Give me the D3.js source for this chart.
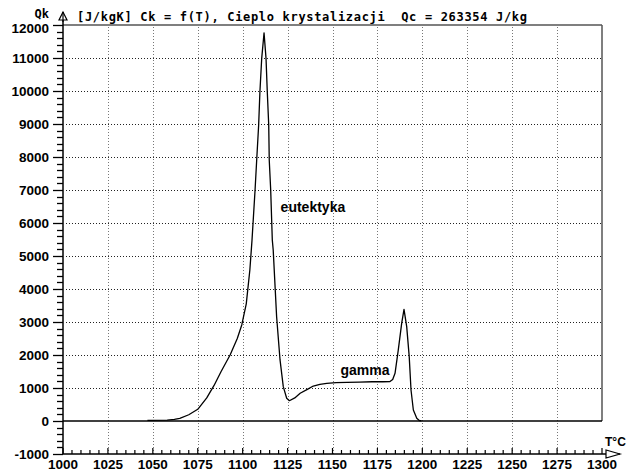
<!DOCTYPE html>
<html>
<head>
<meta charset="utf-8">
<script src="https://cdn.jsdelivr.net/npm/d3@7/dist/d3.min.js"></script>
<style>
html,body{margin:0;padding:0;background:#fff;}
svg{display:block;}
</style>
</head>
<body>
<svg id="chart" width="626" height="471"></svg>
<script>
// ---- data ----
const temperature = [1047, 1058, 1062, 1065, 1070, 1075, 1080, 1084, 1088, 1093, 1097, 1099.5, 1102, 1104, 1105.2, 1106.9, 1107.8, 1108.9, 1109.6, 1110.6, 1111.9, 1113, 1113.7, 1114.5, 1114.8, 1115.6, 1116.5, 1117, 1118.9, 1120.8, 1122.6, 1124.5, 1126, 1129, 1132, 1136, 1139.3, 1143, 1146.8, 1152, 1158, 1165, 1172, 1178, 1182, 1183.5, 1184.8, 1186.6, 1188.5, 1189.8, 1191.3, 1192.7, 1193.7, 1195, 1196.9, 1198.3, 1199.5];
const heatQk = [20, 25, 50, 82, 190, 354, 700, 1070, 1500, 2000, 2500, 2910, 3550, 4575, 5480, 7000, 7900, 8970, 9980, 10990, 11760, 10990, 9980, 8970, 7900, 7000, 5480, 5180, 3160, 1850, 1040, 690, 615, 700, 840, 960, 1060, 1110, 1140, 1160, 1172, 1180, 1190, 1190, 1195, 1260, 1445, 2150, 2960, 3385, 2860, 1950, 940, 333, 82, 15, 5];
const xTicks = [1000, 1025, 1050, 1075, 1100, 1125, 1150, 1175, 1200, 1225, 1250, 1275, 1300];
const yTicks = [-1000, 0, 1000, 2000, 3000, 4000, 5000, 6000, 7000, 8000, 9000, 10000, 11000, 12000];
const titleText = "[J/kgK] Ck = f(T), Cieplo krystalizacji  Qc = 263354 J/kg";
const yAxisName = "Qk";
const xAxisName = "T\u00B0C";
const annotations = [{label: "eutektyka", t: 1139.1, q: 6330}, {label: "gamma", t: 1168.1, q: 1394}];

// ---- layout ----
const svg = d3.select("#chart");
const L = 63, R = 602, T = 25, B = 454;
const x = d3.scaleLinear().domain([1000, 1300]).range([L, R]);
const y = d3.scaleLinear().domain([-1000, 12000]).range([B, T]);

const lab = "'Liberation Sans', Arial, sans-serif";
const mono = "'DejaVu Sans Mono', 'Liberation Mono', monospace";

// grid
const g = svg.append("g");
g.selectAll("line.vg").data(xTicks.filter(d => d > 1000 && d < 1300)).enter().append("line")
  .attr("x1", d => Math.round(x(d)) + 0.5).attr("x2", d => Math.round(x(d)) + 0.5).attr("y1", T + 2).attr("y2", B)
  .attr("stroke", "#777").attr("stroke-width", 1).attr("stroke-dasharray", "1,2");
g.selectAll("line.hg").data(yTicks.filter(d => d !== 0 && d !== 12000 && d !== -1000)).enter().append("line")
  .attr("x1", L + 3).attr("x2", R).attr("y1", d => Math.round(y(d)) + 0.5).attr("y2", d => Math.round(y(d)) + 0.5)
  .attr("stroke", "#222").attr("stroke-width", 1).attr("stroke-dasharray", "1,2");

// frame top/right
g.append("line").attr("x1", L).attr("x2", R).attr("y1", T).attr("y2", T).attr("stroke", "#555").attr("stroke-width", 1.5);
g.append("line").attr("x1", R).attr("x2", R).attr("y1", T).attr("y2", y(0)).attr("stroke", "#555").attr("stroke-width", 1.5);
// zero line
g.append("line").attr("x1", L).attr("x2", R).attr("y1", y(0)).attr("y2", y(0)).attr("stroke", "#000").attr("stroke-width", 1.5);

// y axis
const yMinor = d3.range(-1000, 12001, 200);
g.selectAll("line.ym").data(yMinor).enter().append("line")
  .attr("x1", d => (d % 1000 === 0) ? L - 10 : L - 6).attr("x2", L)
  .attr("y1", d => Math.round(y(d)) + 0.5).attr("y2", d => Math.round(y(d)) + 0.5)
  .attr("stroke", "#000").attr("stroke-width", 1.3);
g.append("line").attr("x1", L).attr("x2", L).attr("y1", 12).attr("y2", B).attr("stroke", "#000").attr("stroke-width", 1.5);
// y arrow
g.append("path").attr("d", `M${L},12 L${L - 4},20 L${L + 4},20 Z`).attr("fill", "#fff").attr("stroke", "#000").attr("stroke-width", 1.2);
g.append("line").attr("x1", L).attr("x2", L).attr("y1", 12).attr("y2", 22).attr("stroke", "#000").attr("stroke-width", 1.2);
g.selectAll("text.yl").data(yTicks).enter().append("text")
  .attr("x", 49).attr("y", d => y(d) + (d === 12000 ? 8 : 5))
  .attr("text-anchor", "end").attr("font-family", lab).attr("font-weight", "bold").attr("font-size", "13.5px")
  .text(d => d);

// x axis
const xMinor = d3.range(1000, 1301, 5);
g.selectAll("line.xm").data(xMinor).enter().append("line")
  .attr("x1", d => x(d)).attr("x2", d => x(d))
  .attr("y1", d => (d % 25 === 0) ? B - 6 : B - 4).attr("y2", B)
  .attr("stroke", "#000").attr("stroke-width", 1.2);
g.append("line").attr("x1", L).attr("x2", 620).attr("y1", B).attr("y2", B).attr("stroke", "#000").attr("stroke-width", 1.5);
g.append("path").attr("d", `M620,${B} L606,${B - 4} L606,${B + 4} Z`).attr("fill", "#fff").attr("stroke", "#000").attr("stroke-width", 1.2);
g.selectAll("text.xl").data(xTicks).enter().append("text")
  .attr("x", d => x(d)).attr("y", 469)
  .attr("text-anchor", "middle").attr("font-family", lab).attr("font-weight", "bold").attr("font-size", "13.5px")
  .text(d => d);

// axis names and title
svg.append("text").attr("x", 49).attr("y", 17.5).attr("text-anchor", "end")
  .attr("font-family", mono).attr("font-weight", "bold").attr("font-size", "12px").text(yAxisName);
svg.append("text").attr("x", 77).attr("y", 21)
  .attr("font-family", mono).attr("font-weight", "bold").attr("font-size", "12px")
  .attr("textLength", 450).attr("lengthAdjust", "spacing")
  .style("white-space", "pre").text(titleText);
svg.append("text").attr("x", 605).attr("y", 446)
  .attr("font-family", lab).attr("font-weight", "bold").attr("font-size", "12px").text(xAxisName);

// curve
const pts = temperature.map((t, i) => [t, heatQk[i]]);
svg.append("path").datum(pts)
  .attr("d", d3.line().x(d => x(d[0])).y(d => y(d[1])))
  .attr("fill", "none").attr("stroke", "#000").attr("stroke-width", 1.3).attr("stroke-linejoin", "round");

// annotations
svg.selectAll("text.ann").data(annotations).enter().append("text")
  .attr("x", d => x(d.t)).attr("y", d => y(d.q))
  .attr("text-anchor", "middle").attr("font-family", lab).attr("font-weight", "bold").attr("font-size", "14px")
  .text(d => d.label);
</script>
</body>
</html>
